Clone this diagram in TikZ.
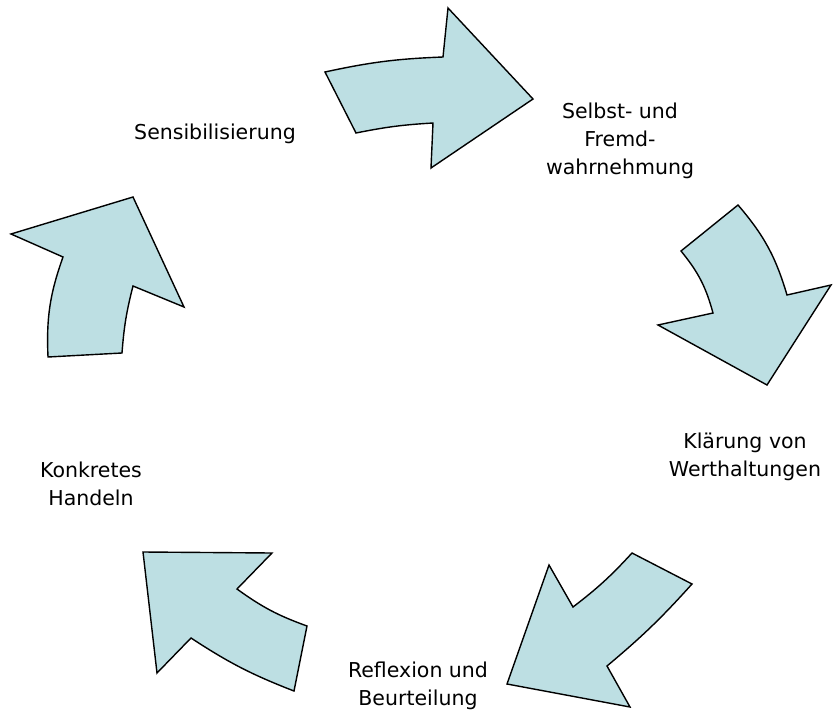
\documentclass[tikz,border=0pt]{standalone}
\usepackage{fontspec}
\setmainfont{DejaVu Sans}
\usepackage{xcolor}
\usepackage{tikz}

\definecolor{pfeilblau}{RGB}{189,223,227}

\begin{document}
\begin{tikzpicture}[
    x=1pt, y=-1pt,
    pfeil/.style={draw=black, line width=1.4pt, fill=pfeilblau, line join=miter},
    schritt/.style={align=center, inner sep=0pt, font=\fontsize{20.5}{28}\selectfont}
]
\useasboundingbox (0,0) rectangle (833,715);

% Pfeile im Kreis
\draw[pfeil] (325,72) to[bend left=5] (443,57) -- (448,8) -- (533,99)
    -- (431,168) -- (433,123) to[bend right=4] (356,133) -- cycle;
\draw[pfeil] (681,251) -- (738,205) to[bend left=12] (787,295) -- (831,285)
    -- (767,385) -- (658,325) -- (713,313) to[bend right=12] cycle;
\draw[pfeil] (632,553) -- (692,584) to[bend left=4] (607,666) -- (630,707)
    -- (507,684) -- (549,565) -- (573,607) to[bend right=5] cycle;
\draw[pfeil] (143,552) -- (272,553) -- (237,589) to[bend right=8] (307,626)
    -- (294,691) to[bend left=6] (191,638) -- (157,673) -- cycle;
\draw[pfeil] (11,234) -- (133,197) -- (184,307) -- (133,286) to[bend right=5] (122,353)
    -- (48,357) to[bend left=11] (63,257) -- cycle;

% Beschriftungen
\node[schritt] (sensib)   at (215,134) {Sensibilisierung};
\node[schritt] (wahrn)    at (620,141) {Selbst- und\\Fremd-\\wahrnehmung};
\node[schritt] (werte)    at (745,457) {Klärung von\\Werthaltungen};
\node[schritt] (reflex)   at (418,686) {Reflexion und\\Beurteilung};
\node[schritt] (handeln)  at (91,484)  {Konkretes\\Handeln};
\end{tikzpicture}
\end{document}
